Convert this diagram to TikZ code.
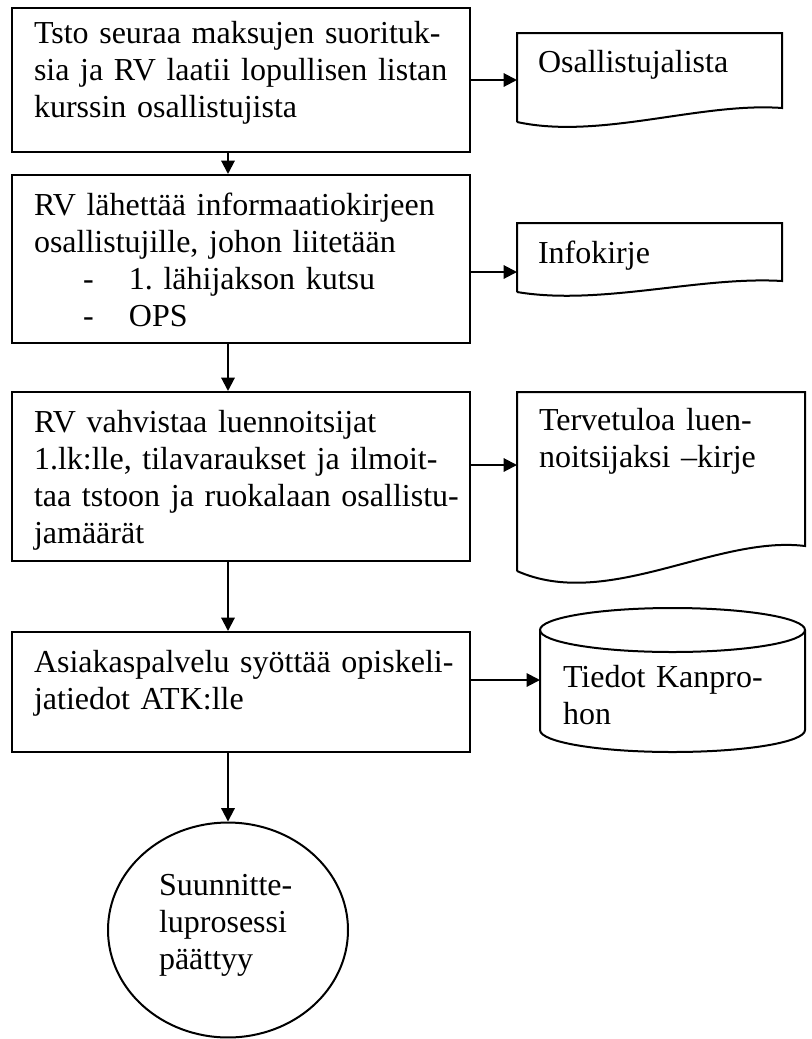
\documentclass[tikz,border=0pt]{standalone}
\usepackage{fontspec}
\setmainfont{Liberation Serif}
\usetikzlibrary{arrows.meta,shapes.geometric}
\frenchspacing
\tikzset{
  laatikko/.style={draw,rectangle,inner sep=0pt,minimum width=171.75pt},
  teksti/.style={anchor=north west,inner sep=0pt,text width=175pt,align=left,
    font=\fontsize{12}{13.8}\selectfont,execute at begin node=\strut},
  nuoli/.style={-{Triangle[length=5pt,width=5pt]}}
}
\begin{document}
\begin{tikzpicture}[x=0.375pt,y=-0.375pt,line width=0.75pt]
  \useasboundingbox (0,0) rectangle (811,1039);
  % prosessilaatikot
  \node[laatikko,minimum height=54pt] (b1) at (241,80) {};
  \node[laatikko,minimum height=63pt] (b2) at (241,259) {};
  \node[laatikko,minimum height=63.375pt] (b3) at (241,476.5) {};
  \node[laatikko,minimum height=45pt] (b4) at (241,692) {};
  \node[draw,ellipse,inner sep=0pt,minimum width=90pt,minimum height=80.6pt] (e1) at (228,930) {};
  \node[teksti] (t1) at (33,17) {Tsto seuraa maksujen suorituk-\\sia ja RV laatii lopullisen listan\\kurssin osallistujista};
  \node[teksti] (t2) at (33,189) {RV lähettää informaatiokirjeen\\osallistujille, johon liitetään\\
    \hspace*{18.4pt}\makebox[17.2pt][l]{-}1. lähijakson kutsu\\
    \hspace*{18.4pt}\makebox[17.2pt][l]{-}OPS};
  \node[teksti] (t3) at (33,406) {RV vahvistaa luennoitsijat\\1.lk:lle, tilavaraukset ja ilmoit-\\taa tstoon ja ruokalaan osallistu-\\jamäärät};
  \node[teksti] (t4) at (33,646) {Asiakaspalvelu syöttää opiskeli-\\jatiedot ATK:lle};
  \node[teksti] (t5) at (158,869) {Suunnitte-\\luprosessi\\päättyy};
  % dokumentit
  \draw (517,122) -- (517,33) -- (782,33) -- (782,108)
    .. controls (700,102) and (600,140) .. (517,122);
  \draw (517,292) -- (517,223) -- (782,223) -- (782,281)
    .. controls (700,276) and (600,306) .. (517,292);
  \draw (517,571) -- (517,392) -- (805,392) -- (805,546)
    .. controls (716,535) and (607,611) .. (517,571);
  \node[teksti] (t6) at (537,46) {Osallistujalista};
  \node[teksti] (t7) at (537,237) {Infokirje};
  \node[teksti] (t8) at (538,404) {Tervetuloa luen-\\noitsijaksi –kirje};
  % tietokanta
  \draw (672.5,630) ellipse [x radius=132.5, y radius=22];
  \draw (540,630) -- (540,730) arc [start angle=180, end angle=0, x radius=132.5, y radius=22] -- (805,630);
  \node[teksti] (t9) at (562,661) {Tiedot Kanpro-\\hon};
  \coordinate (d1) at (517,80);
  \coordinate (d2) at (517,272);
  \coordinate (d3) at (517,465);
  \coordinate (k1) at (540,680);
  % nuolet
  \draw[nuoli] (b1.south -| e1) -- (b2.north -| e1);
  \draw[nuoli] (b2.south -| e1) -- (b3.north -| e1);
  \draw[nuoli] (b3.south -| e1) -- (b4.north -| e1);
  \draw[nuoli] (b4.south -| e1) -- (e1.north);
  \draw[nuoli] (b1.east |- d1) -- (d1);
  \draw[nuoli] (b2.east |- d2) -- (d2);
  \draw[nuoli] (b3.east |- d3) -- (d3);
  \draw[nuoli] (b4.east |- k1) -- (k1);
\end{tikzpicture}
\end{document}
